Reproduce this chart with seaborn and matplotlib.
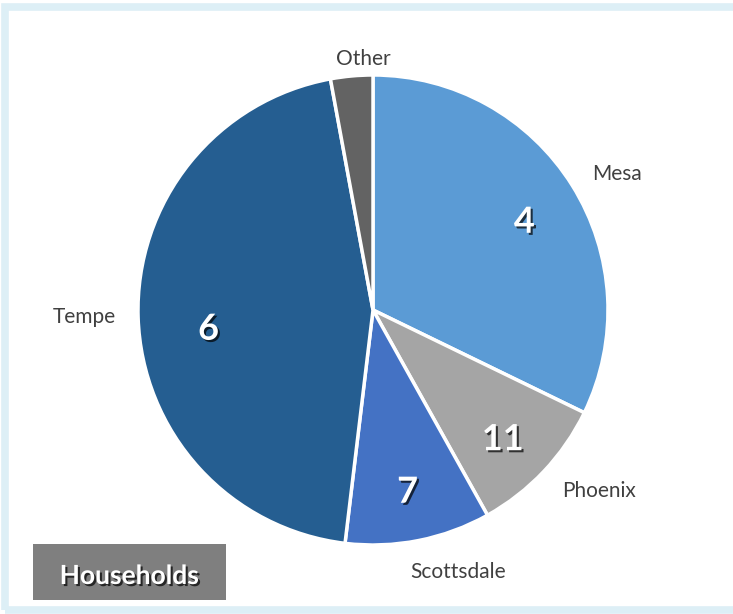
import numpy as np
import seaborn as sns
import matplotlib.pyplot as plt
import matplotlib.patheffects as pe
from matplotlib.patches import Rectangle

# data (slice shares in %, clockwise from 12 o'clock)
cities = ['Mesa', 'Phoenix', 'Scottsdale', 'Tempe', 'Other']
shares = [32.2, 9.7, 10.0, 45.2, 2.9]
slice_labels = ['4', '11', '7', '6', '']
colors = ['#5b9bd5', '#a5a5a5', '#4472c4', '#255e91', '#636363']
box_title = 'Households'

sns.set_style('white')
plt.rcParams['font.family'] = ['Lato', 'DejaVu Sans']

fig = plt.figure(figsize=(7.33, 6.14), dpi=100)

# light blue frame around the chart (runs off the right edge)
fig.patches.append(Rectangle((5 / 733, 4 / 614), 760 / 733, 603 / 614,
                             transform=fig.transFigure, fill=False,
                             edgecolor='#ddeff6', linewidth=5.5, zorder=0))

ax = fig.add_axes([138 / 733, 69 / 614, 470 / 733, 470 / 614])
wedges, texts = ax.pie(shares, labels=cities, colors=colors, startangle=90,
                       counterclock=False, labeldistance=1.2,
                       wedgeprops=dict(edgecolor='white', linewidth=2.5),
                       textprops=dict(fontsize=15, color='#404040'))
for t in texts:
    t.set_ha('center')
    t.set_va('center')
# nudge outside labels to where Excel put them
texts[0].set_position((1.04, 0.58))
texts[1].set_position((0.96, -0.77))
texts[2].set_position((0.36, -1.115))
texts[3].set_position((-1.23, -0.03))
texts[4].set_position((-0.04, 1.07))

shadow = [pe.SimplePatchShadow(offset=(1.5, -1.5), shadow_rgbFace='black', alpha=0.7),
          pe.Normal()]
for w, lab in zip(wedges, slice_labels):
    ang = np.deg2rad((w.theta1 + w.theta2) / 2)
    r = 0.70 if lab == '6' else 0.76
    ax.text(r * np.cos(ang), r * np.sin(ang) - (0.06 if lab == '6' else 0.03), lab,
            ha='center', va='center', fontsize=26, fontweight='bold',
            color='white', path_effects=shadow)
ax.set_xlim(-1, 1)
ax.set_ylim(-1, 1)
ax.set_aspect('equal')

# title box bottom-left
fig.patches.append(Rectangle((33 / 733, 14 / 614), 193 / 733, 56 / 614,
                             transform=fig.transFigure, facecolor='#7f7f7f',
                             edgecolor='none', zorder=1))
fig.text(129 / 733, 38 / 614, box_title, ha='center', va='center',
         fontsize=19, fontweight='bold', color='white', path_effects=shadow)

plt.savefig('out.png', dpi=100)
